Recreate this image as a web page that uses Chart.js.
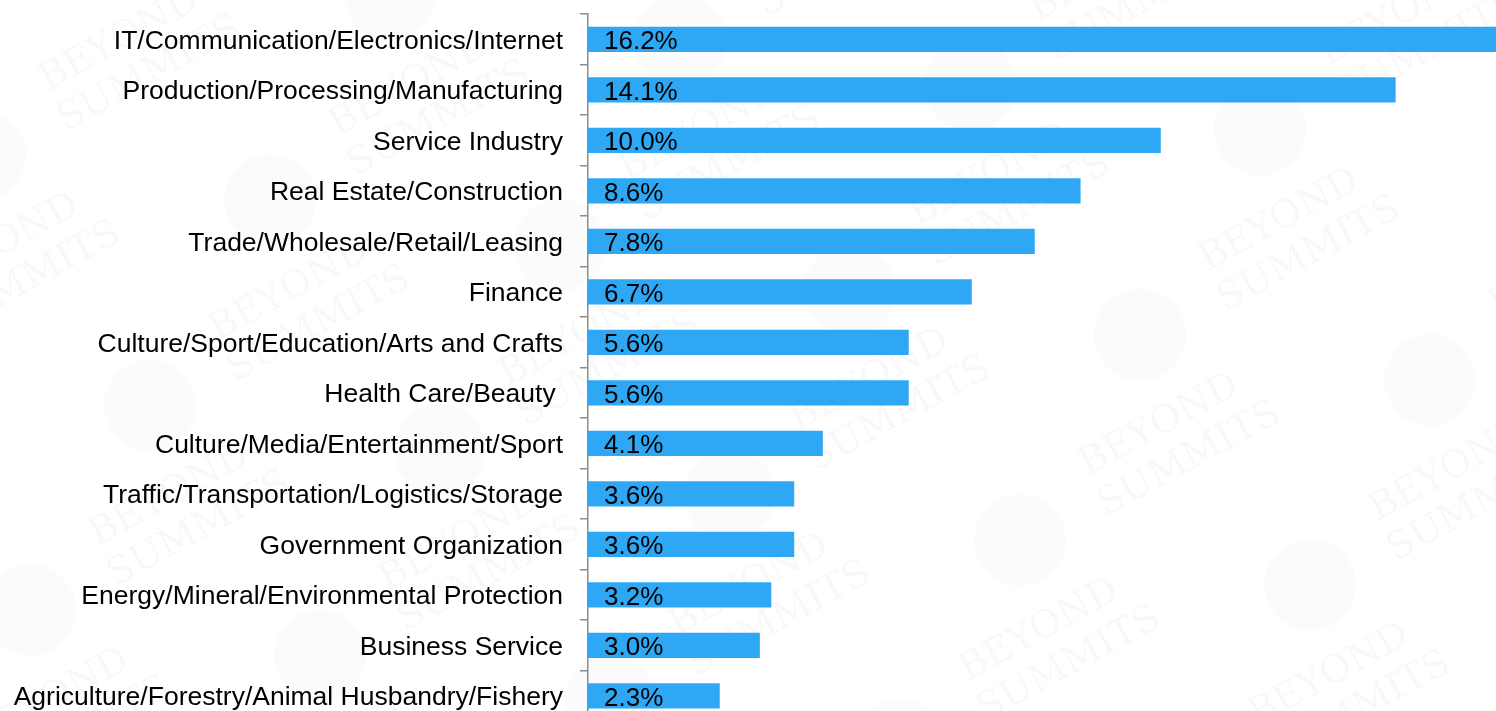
<!DOCTYPE html>
<html>
<head>
<meta charset="utf-8">
<title>Industry distribution</title>
<script src="https://cdn.jsdelivr.net/npm/chart.js@4/dist/chart.umd.min.js"></script>
<style>
  html, body { margin: 0; padding: 0; background: #ffffff; overflow: hidden; }
  #wrap { position: absolute; left: 0; top: 0; width: 1619px; height: 721px; }
</style>
</head>
<body>
<div id="wrap"><canvas id="chart" width="1619" height="721"></canvas></div>
<script>
// Industries, largest share first
const industries = [
  'IT/Communication/Electronics/Internet',
  'Production/Processing/Manufacturing',
  'Service Industry',
  'Real Estate/Construction',
  'Trade/Wholesale/Retail/Leasing',
  'Finance',
  'Culture/Sport/Education/Arts and Crafts',
  'Health Care/Beauty ',
  'Culture/Media/Entertainment/Sport',
  'Traffic/Transportation/Logistics/Storage',
  'Government Organization',
  'Energy/Mineral/Environmental Protection',
  'Business Service',
  'Agriculture/Forestry/Animal Husbandry/Fishery'
];

// Share of respondents per industry (%)
const shares = [16.2, 14.1, 10.0, 8.6, 7.8, 6.7, 5.6, 5.6, 4.1, 3.6, 3.6, 3.2, 3.0, 2.3];

const barColor = '#2ea8f5';
const axisColor = '#8c8c8c';
const fontFamily = '"Liberation Sans", Arial, Helvetica, sans-serif';

// Faint tiled brand mark behind the plot
const watermark = {
  id: 'watermark',
  beforeDraw(chart) {
    const ctx = chart.ctx;
    ctx.save();
    const ax = 290, ay = 45, bx = -120, by = 205;
    for (let i = -4; i < 10; i++) {
      for (let j = -3; j < 8; j++) {
        const cx = 130 + i * ax + j * bx;
        const cy = 60 + i * ay + j * by;
        if (cx < -200 || cx > 1800 || cy < -200 || cy > 900) continue;
        // round seal
        ctx.beginPath();
        ctx.arc(cx - 150, cy + 95, 46, 0, Math.PI * 2);
        ctx.fillStyle = 'rgba(0,0,0,0.016)';
        ctx.fill();
        // rotated wordmark
        ctx.save();
        ctx.translate(cx, cy);
        ctx.rotate(-0.5);
        ctx.fillStyle = 'rgba(0,0,0,0.028)';
        ctx.font = '38px "DejaVu Serif", serif';
        ctx.textAlign = 'center';
        ctx.textBaseline = 'middle';
        ctx.fillText('BEYOND', 0, -22);
        ctx.fillText('SUMMITS', 10, 22);
        ctx.restore();
      }
    }
    ctx.restore();
  }
};

// Percentage printed at the start of each bar
const valueLabels = {
  id: 'valueLabels',
  afterDatasetsDraw(chart) {
    const ctx = chart.ctx;
    const meta = chart.getDatasetMeta(0);
    ctx.save();
    ctx.font = '26px ' + fontFamily;
    ctx.fillStyle = '#000000';
    ctx.textAlign = 'left';
    ctx.textBaseline = 'middle';
    meta.data.forEach((bar, i) => {
      const v = chart.data.datasets[0].data[i];
      ctx.fillText(v.toFixed(1) + '%', bar.base + 16, bar.y + 3);
    });
    ctx.restore();
  }
};

new Chart(document.getElementById('chart'), {
  type: 'bar',
  data: {
    labels: industries,
    datasets: [{
      data: shares,
      backgroundColor: barColor,
      borderWidth: 0,
      barPercentage: 0.5,
      categoryPercentage: 1.0
    }]
  },
  options: {
    indexAxis: 'y',
    responsive: false,
    animation: false,
    layout: { padding: { top: 14, right: 0, bottom: 0, left: 0 } },
    plugins: {
      legend: { display: false },
      tooltip: { enabled: false },
      title: { display: false }
    },
    scales: {
      x: {
        display: false,
        min: 0,
        max: 18
      },
      y: {
        afterFit(scale) {
          scale.width = 588;
          scale.paddingTop = 0;
          scale.paddingBottom = 0;
        },
        grid: {
          offset: true,
          drawOnChartArea: false,
          tickLength: 8,
          color: axisColor,
          lineWidth: 1.5
        },
        border: { display: true, color: axisColor, width: 1.5 },
        ticks: {
          padding: 17,
          labelOffset: 2,
          color: '#000000',
          autoSkip: false,
          font: { family: fontFamily, size: 26.5 }
        }
      }
    }
  },
  plugins: [watermark, valueLabels]
});
</script>
</body>
</html>
